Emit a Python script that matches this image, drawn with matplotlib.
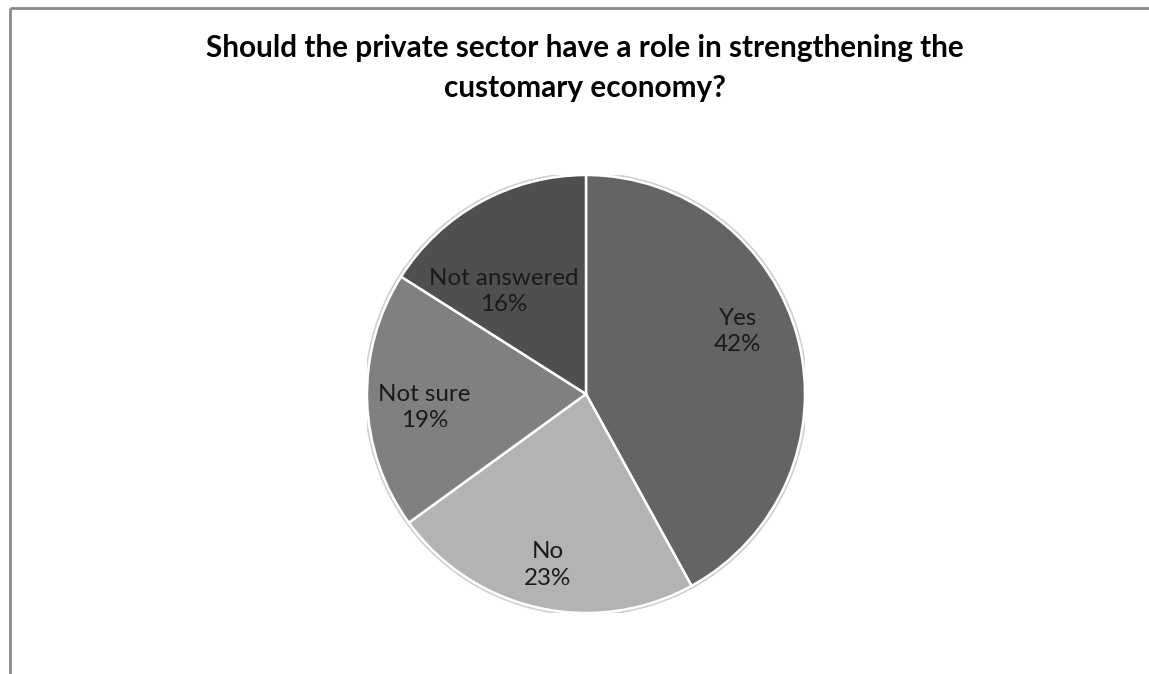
import matplotlib.pyplot as plt
import numpy as np
from matplotlib.patches import Circle

plt.rcParams['font.family'] = ['Lato', 'DejaVu Sans']

# survey answers, clockwise from 12 o'clock
categories = ['Yes', 'No', 'Not sure', 'Not answered']
shares = [42, 23, 19, 16]
colors = ['#646464', '#b3b3b3', '#808080', '#4f4f4f']
title_lines = ['Should the private sector have a role in strengthening the',
               'customary economy?']

# where each label sits inside its slice (fraction of radius, degrees off the mid-angle)
label_radius = [0.75, 0.80, 0.74, 0.60]
label_shift = [8, 0, 3, 10]

W, H = 1149, 674
fig = plt.figure(figsize=(W / 100, H / 100), dpi=100)
renderer = fig.canvas.get_renderer()


def fit_width(txt, target_px):
    # scale the font so the text spans the wanted pixel width
    w = txt.get_window_extent(renderer).width
    txt.set_fontsize(txt.get_fontsize() * target_px / w)


# chart frame, only the top and left edges are inside the canvas
frame = fig.add_axes([0, 0, 1, 1])
frame.set_xlim(0, W)
frame.set_ylim(H, 0)
frame.axis('off')
frame.plot([10, W], [7.5, 7.5], color='#8a8a8a', lw=2, solid_capstyle='butt')
frame.plot([10, 10], [7.5, H], color='#8a8a8a', lw=2, solid_capstyle='butt')

t1 = fig.text(585 / W, 1 - 57 / H, title_lines[0],
              ha='center', va='baseline', fontsize=20, fontweight='bold')
fit_width(t1, 757)
fig.text(585 / W, 1 - 97 / H, title_lines[1],
         ha='center', va='baseline', fontsize=t1.get_fontsize(), fontweight='bold')

cx, cy, r = 586, 394, 219
ax = fig.add_axes([(cx - r) / W, (H - cy - r) / H, 2 * r / W, 2 * r / H])
ax.set_aspect('equal')

ax.add_patch(Circle((0, 0), 1.005, facecolor='none', edgecolor='#cfcfcf', lw=2.5, zorder=0))
wedges, _ = ax.pie(shares, colors=colors, startangle=90, counterclock=False,
                   wedgeprops=dict(edgecolor='white', linewidth=1.8))

# label size: "Not answered" is about 150 px wide
probe = fig.text(0, 0, categories[3], fontsize=16)
fit_width(probe, 150)
label_size = probe.get_fontsize()
probe.remove()

for w, name, pct, rad, shift in zip(wedges, categories, shares, label_radius, label_shift):
    mid = np.deg2rad((w.theta1 + w.theta2) / 2 + shift)
    ax.text(rad * np.cos(mid), rad * np.sin(mid), f'{name}\n{pct}%',
            ha='center', va='center', fontsize=label_size, color='#1a1a1a', linespacing=1.3)

ax.set_xlim(-1, 1)
ax.set_ylim(-1, 1)
ax.axis('off')

fig.savefig('out.png', dpi=100)
